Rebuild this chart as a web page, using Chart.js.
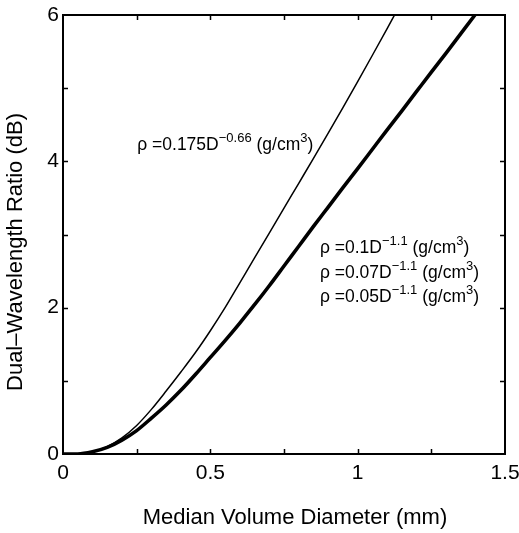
<!DOCTYPE html>
<html>
<head>
<meta charset="utf-8">
<title>Dual-Wavelength Ratio vs Median Volume Diameter</title>
<script src="https://cdn.jsdelivr.net/npm/chart.js@4/dist/chart.umd.min.js"></script>
<style>
  html, body { margin: 0; padding: 0; background: #fff; }
  #wrap { width: 519px; height: 533px; position: relative; }
</style>
</head>
<body>
<div id="wrap"><canvas id="chart"></canvas></div>
<script>
let chart;

// Thin curve: rho = 0.175 D^-0.66
const thinX = [0, 0.05, 0.1, 0.15, 0.2, 0.25, 0.3, 0.35, 0.4, 0.45, 0.5, 0.55, 0.6,
               0.65, 0.7, 0.75, 0.8, 0.85, 0.9, 0.95, 1.0, 1.05, 1.1, 1.14];
const thinY = [0, 0, 0.03, 0.1, 0.22, 0.39, 0.61, 0.86, 1.12, 1.39, 1.685, 2.0, 2.34,
               2.68, 3.02, 3.36, 3.7, 4.04, 4.385, 4.735, 5.09, 5.45, 5.815, 6.11];

// Thick curve: the three rho = c D^-1.1 relations, drawn on top of each other
const thickX = [0, 0.05, 0.1, 0.15, 0.2, 0.25, 0.3, 0.35, 0.4, 0.45, 0.5, 0.55, 0.6, 0.65,
                0.7, 0.75, 0.8, 0.85, 0.9, 0.95, 1.0, 1.05, 1.1, 1.15, 1.2, 1.25, 1.3,
                1.35, 1.4, 1.43];
const thickY = [0, 0, 0.03, 0.09, 0.19, 0.32, 0.49, 0.67, 0.87, 1.09, 1.32, 1.55, 1.79, 2.04,
                2.3, 2.57, 2.84, 3.11, 3.375, 3.64, 3.9, 4.165, 4.43, 4.69, 4.955, 5.22, 5.48,
                5.745, 6.01, 6.17];

// Tick labels (other ticks are unlabelled)
const xLabelValues = [0, 0.5, 1, 1.5];
const xLabelText = ['0', '0.5', '1', '1.5'];
const yLabelValues = [0, 2, 4, 6];
const yLabelText = ['0', '2', '4', '6'];

const xTitle = 'Median Volume Diameter (mm)';
const yTitle = 'Dual\u2013Wavelength Ratio (dB)';

// Curve labels: [text, isSuperscript] pieces, anchored in data units
const thinLabel = [['\u03c1 =0.175D', 0], ['\u22120.66', 1], [' (g/cm', 0], ['3', 1], [')', 0]];
const thinLabelAt = { x: 0.252, y: 4.16 };
const thickLabels = [
  [['\u03c1 =0.1D', 0], ['\u22121.1', 1], [' (g/cm', 0], ['3', 1], [')', 0]],
  [['\u03c1 =0.07D', 0], ['\u22121.1', 1], [' (g/cm', 0], ['3', 1], [')', 0]],
  [['\u03c1 =0.05D', 0], ['\u22121.1', 1], [' (g/cm', 0], ['3', 1], [')', 0]]
];
const thickLabelAt = [{ x: 0.872, y: 2.75 }, { x: 0.872, y: 2.41 }, { x: 0.872, y: 2.075 }];

const FONT = '"Liberation Sans", Arial, Helvetica, sans-serif';

function toPoints(xs, ys) {
  return xs.map((x, i) => ({ x: x, y: ys[i] }));
}

function labelFor(values, texts, v) {
  const i = values.findIndex(d => Math.abs(d - v) < 1e-6);
  return i >= 0 ? texts[i] : '';
}

// text with superscript pieces
function drawRich(ctx, x, y, parts, size) {
  let cx = x;
  parts.forEach(([t, sup]) => {
    const s = sup ? Math.round(size * 0.74) : size;
    ctx.font = s + 'px ' + FONT;
    ctx.fillText(t, cx, sup ? y - size * 0.46 : y);
    cx += ctx.measureText(t).width;
  });
}

// box, inward ticks, axis titles and curve labels
const decorations = {
  id: 'decorations',
  afterDraw(c) {
    const ctx = c.ctx;
    const { left, right, top, bottom } = c.chartArea;
    const xs = c.scales.x, ys = c.scales.y;
    const tl = 5;

    ctx.save();
    ctx.strokeStyle = '#000';
    ctx.lineWidth = 2;
    ctx.strokeRect(left, top, right - left, bottom - top);

    ctx.lineWidth = 1.5;
    ctx.beginPath();
    xs.ticks.forEach(t => {
      const px = Math.round(xs.getPixelForValue(t.value)) + 0.5;
      if (px <= left + 1 || px >= right - 1) return;
      ctx.moveTo(px, bottom); ctx.lineTo(px, bottom - tl);
      ctx.moveTo(px, top); ctx.lineTo(px, top + tl);
    });
    ys.ticks.forEach(t => {
      const py = Math.round(ys.getPixelForValue(t.value)) + 0.5;
      if (py <= top + 1 || py >= bottom - 1) return;
      ctx.moveTo(left, py); ctx.lineTo(left + tl, py);
      ctx.moveTo(right, py); ctx.lineTo(right - tl, py);
    });
    ctx.stroke();

    ctx.fillStyle = '#000';
    ctx.font = '22px ' + FONT;
    ctx.textAlign = 'center';
    ctx.textBaseline = 'middle';
    ctx.fillText(xTitle, 295, 518);
    ctx.save();
    ctx.translate(16, 252);
    ctx.rotate(-Math.PI / 2);
    ctx.fillText(yTitle, 0, 0);
    ctx.restore();

    ctx.textAlign = 'left';
    ctx.textBaseline = 'alphabetic';
    drawRich(ctx, xs.getPixelForValue(thinLabelAt.x), ys.getPixelForValue(thinLabelAt.y), thinLabel, 17.5);
    thickLabels.forEach((parts, i) => {
      drawRich(ctx, xs.getPixelForValue(thickLabelAt[i].x), ys.getPixelForValue(thickLabelAt[i].y), parts, 17.5);
    });
    ctx.restore();
  }
};

chart = new Chart(document.getElementById('chart'), {
  type: 'line',
  data: {
    datasets: [
      { label: 'rho = 0.175 D^-0.66', data: toPoints(thinX, thinY), borderColor: '#000',
        borderWidth: 1.5, pointRadius: 0, fill: false, cubicInterpolationMode: 'monotone' },
      { label: 'rho = 0.1 / 0.07 / 0.05 D^-1.1', data: toPoints(thickX, thickY), borderColor: '#000',
        borderWidth: 3.6, pointRadius: 0, fill: false, cubicInterpolationMode: 'monotone' }
    ]
  },
  options: {
    responsive: true,
    maintainAspectRatio: false,
    animation: false,
    layout: { padding: { left: 0, right: 14, top: 15, bottom: 0 } },
    plugins: { legend: { display: false }, tooltip: { enabled: false } },
    scales: {
      x: {
        type: 'linear', min: 0, max: 1.5,
        grid: { display: false, drawTicks: false },
        border: { display: false },
        ticks: {
          stepSize: 0.25, autoSkip: false, maxRotation: 0, padding: 7, color: '#000',
          font: { family: FONT, size: 21 },
          callback: v => labelFor(xLabelValues, xLabelText, v)
        },
        afterFit: s => { s.height = 79; s.paddingLeft = 0; s.paddingRight = 0; }
      },
      y: {
        type: 'linear', min: 0, max: 6,
        grid: { display: false, drawTicks: false },
        border: { display: false },
        ticks: {
          stepSize: 1, autoSkip: false, padding: 4, color: '#000',
          font: { family: FONT, size: 21 },
          callback: v => labelFor(yLabelValues, yLabelText, v)
        },
        afterFit: s => { s.width = 63; s.paddingTop = 0; s.paddingBottom = 0; }
      }
    }
  },
  plugins: [decorations]
});
</script>
</body>
</html>
